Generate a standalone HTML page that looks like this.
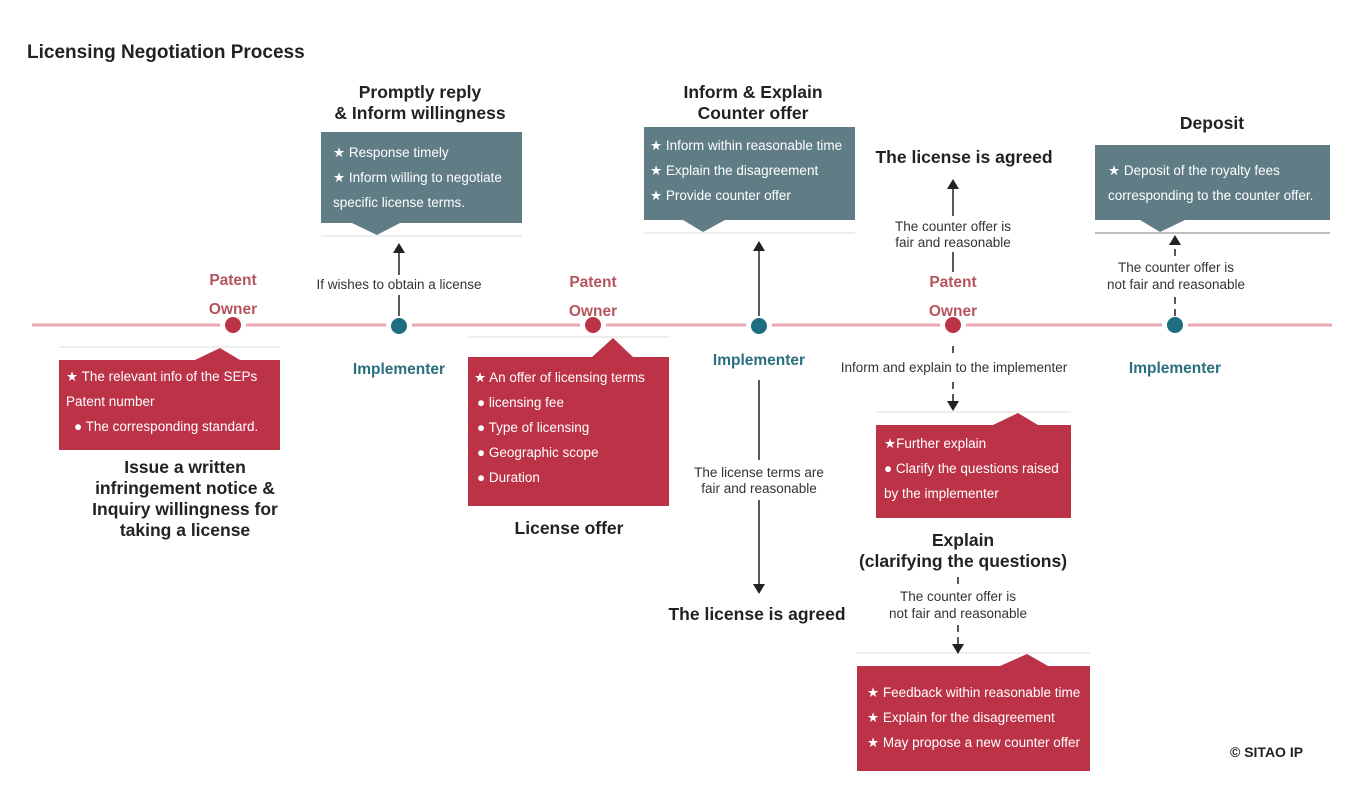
<!DOCTYPE html>
<html><head><meta charset="utf-8"><style>
body{margin:0;background:#fff}
svg{display:block;font-family:"Liberation Sans",sans-serif}
.w{fill:#fff;font-size:13.5px}
.b{font-weight:bold;fill:#222;font-size:17.5px}
.l{fill:#333;font-size:13.5px}
.po{fill:#b5545e;font-weight:bold;font-size:15.5px}
.im{fill:#2a6f7e;font-weight:bold;font-size:15.5px}
</style></head><body>
<svg width="1358" height="798" viewBox="0 0 1358 798">
<defs><marker id="a" markerWidth="10" markerHeight="12" refX="5" refY="6" orient="auto-start-reverse" markerUnits="userSpaceOnUse"><path d="M0,0 L10,6 L0,12 Z" fill="#222"/></marker></defs>
<text x="27" y="58" style="font-weight:bold;font-size:19px;fill:#222">Licensing Negotiation Process</text>
<line x1="32" y1="325" x2="1332" y2="325" stroke="#e8a9b1" stroke-width="3"/>
<g stroke="#fff" stroke-width="5">
<circle cx="233" cy="325" r="10.5" fill="#bc3347"/><circle cx="593" cy="325" r="10.5" fill="#bc3347"/><circle cx="953" cy="325" r="10.5" fill="#bc3347"/>
<circle cx="399" cy="326" r="10.5" fill="#1d6e80"/><circle cx="759" cy="326" r="10.5" fill="#1d6e80"/><circle cx="1175" cy="325" r="10.5" fill="#1d6e80"/>
</g>
<g text-anchor="middle">
<text x="233" y="285" class="po">Patent</text><text x="233" y="314" class="po">Owner</text>
<text x="593" y="287" class="po">Patent</text><text x="593" y="316" class="po">Owner</text>
<text x="953" y="287" class="po">Patent</text><text x="953" y="316" class="po">Owner</text>
<text x="399" y="374" class="im">Implementer</text>
<text x="759" y="365" class="im">Implementer</text>
<text x="1175" y="373" class="im">Implementer</text>
</g>
<g stroke="#e4e4e4" stroke-width="1.2">
<line x1="59" y1="347" x2="280" y2="347"/><line x1="321" y1="236" x2="522" y2="236"/>
<line x1="468" y1="337" x2="669" y2="337"/><line x1="644" y1="233" x2="855" y2="233"/>
<line x1="876" y1="412" x2="1071" y2="412"/><line x1="857" y1="653" x2="1090" y2="653"/>
</g>
<line x1="1095" y1="233" x2="1330" y2="233" stroke="#b8bfc2" stroke-width="2"/>
<g fill="#bc3347">
<path d="M59,360 H195 L220,348 L240,360 H280 V450 H59 Z"/>
<path d="M468,357 H592 L613,338 L633,357 H669 V506 H468 Z"/>
<path d="M876,425 H993 L1018,413 L1038,425 H1071 V518 H876 Z"/>
<path d="M857,666 H1000 L1027,654 L1048,666 H1090 V771 H857 Z"/>
</g>
<g fill="#607d86">
<path d="M321,132 H522 V223 H400 L377,235 L352,223 H321 Z"/>
<path d="M644,127 H855 V220 H725 L703,232 L683,220 H644 Z"/>
<path d="M1095,145 H1330 V220 H1185 L1160,232 L1140,220 H1095 Z"/>
</g>
<text x="66" y="381" class="w">★ The relevant info of the SEPs</text>
<text x="66" y="406" class="w">Patent number</text>
<text x="74" y="431" class="w">● The corresponding standard.</text>
<text x="333" y="157" class="w">★ Response timely</text>
<text x="333" y="182" class="w">★ Inform willing to negotiate</text>
<text x="333" y="207" class="w">specific license terms.</text>
<text x="474" y="382" class="w">★ An offer of licensing terms</text>
<text x="477" y="407" class="w">● licensing fee</text>
<text x="477" y="432" class="w">● Type of licensing</text>
<text x="477" y="457" class="w">● Geographic scope</text>
<text x="477" y="482" class="w">● Duration</text>
<text x="650" y="150" class="w">★ Inform within reasonable time</text>
<text x="650" y="175" class="w">★ Explain the disagreement</text>
<text x="650" y="200" class="w">★ Provide counter offer</text>
<text x="1108" y="175" class="w">★ Deposit of the royalty fees</text>
<text x="1108" y="200" class="w">corresponding to the counter offer.</text>
<text x="884" y="448" class="w">★Further explain</text>
<text x="884" y="473" class="w">● Clarify the questions raised</text>
<text x="884" y="498" class="w">by the implementer</text>
<text x="867" y="697" class="w">★ Feedback within reasonable time</text>
<text x="867" y="722" class="w">★ Explain for the disagreement</text>
<text x="867" y="747" class="w">★ May propose a new counter offer</text>
<g text-anchor="middle">
<text x="420" y="98" class="b">Promptly reply</text><text x="420" y="119" class="b">&amp; Inform willingness</text>
<text x="753" y="98" class="b">Inform &amp; Explain</text><text x="753" y="119" class="b">Counter offer</text>
<text x="964" y="163" class="b">The license is agreed</text>
<text x="1212" y="129" class="b">Deposit</text>
<text x="185" y="473" class="b">Issue a written</text><text x="185" y="494" class="b">infringement notice &amp;</text>
<text x="185" y="515" class="b">Inquiry willingness for</text><text x="185" y="536" class="b">taking a license</text>
<text x="569" y="534" class="b">License offer</text>
<text x="757" y="620" class="b">The license is agreed</text>
<text x="963" y="546" class="b">Explain</text><text x="963" y="567" class="b">(clarifying the questions)</text>
</g>
<g stroke="#222" stroke-width="1.5" fill="none">
<line x1="399" y1="275" x2="399" y2="248" marker-end="url(#a)"/>
<line x1="399" y1="295" x2="399" y2="316"/>
<line x1="759" y1="316" x2="759" y2="246" marker-end="url(#a)"/>
<line x1="759" y1="380" x2="759" y2="460"/>
<line x1="759" y1="500" x2="759" y2="589" marker-end="url(#a)"/>
<line x1="953" y1="216" x2="953" y2="184" marker-end="url(#a)"/>
<line x1="953" y1="252" x2="953" y2="272"/>
<line x1="953" y1="346" x2="953" y2="406" stroke-dasharray="7,5" marker-end="url(#a)"/>
<line x1="958" y1="577" x2="958" y2="649" stroke-dasharray="7,5" marker-end="url(#a)"/>
<line x1="1175" y1="316" x2="1175" y2="240" stroke-dasharray="7,5" marker-end="url(#a)"/>
</g>
<g fill="#fff">
<rect x="835" y="357" width="238" height="20"/><rect x="875" y="587" width="166" height="38"/>
<rect x="1095" y="258" width="162" height="38"/>
</g>
<g text-anchor="middle">
<text x="399" y="289" class="l">If wishes to obtain a license</text>
<text x="759" y="477" class="l">The license terms are</text><text x="759" y="493" class="l">fair and reasonable</text>
<text x="953" y="231" class="l">The counter offer is</text><text x="953" y="247" class="l">fair and reasonable</text>
<text x="954" y="372" class="l">Inform and explain to the implementer</text>
<text x="958" y="601" class="l">The counter offer is</text><text x="958" y="618" class="l">not fair and reasonable</text>
<text x="1176" y="272" class="l">The counter offer is</text><text x="1176" y="289" class="l">not fair and reasonable</text>
</g>
<text x="1230" y="757" style="font-weight:bold;font-size:14px;fill:#222">© SITAO IP</text>
</svg>
</body></html>
